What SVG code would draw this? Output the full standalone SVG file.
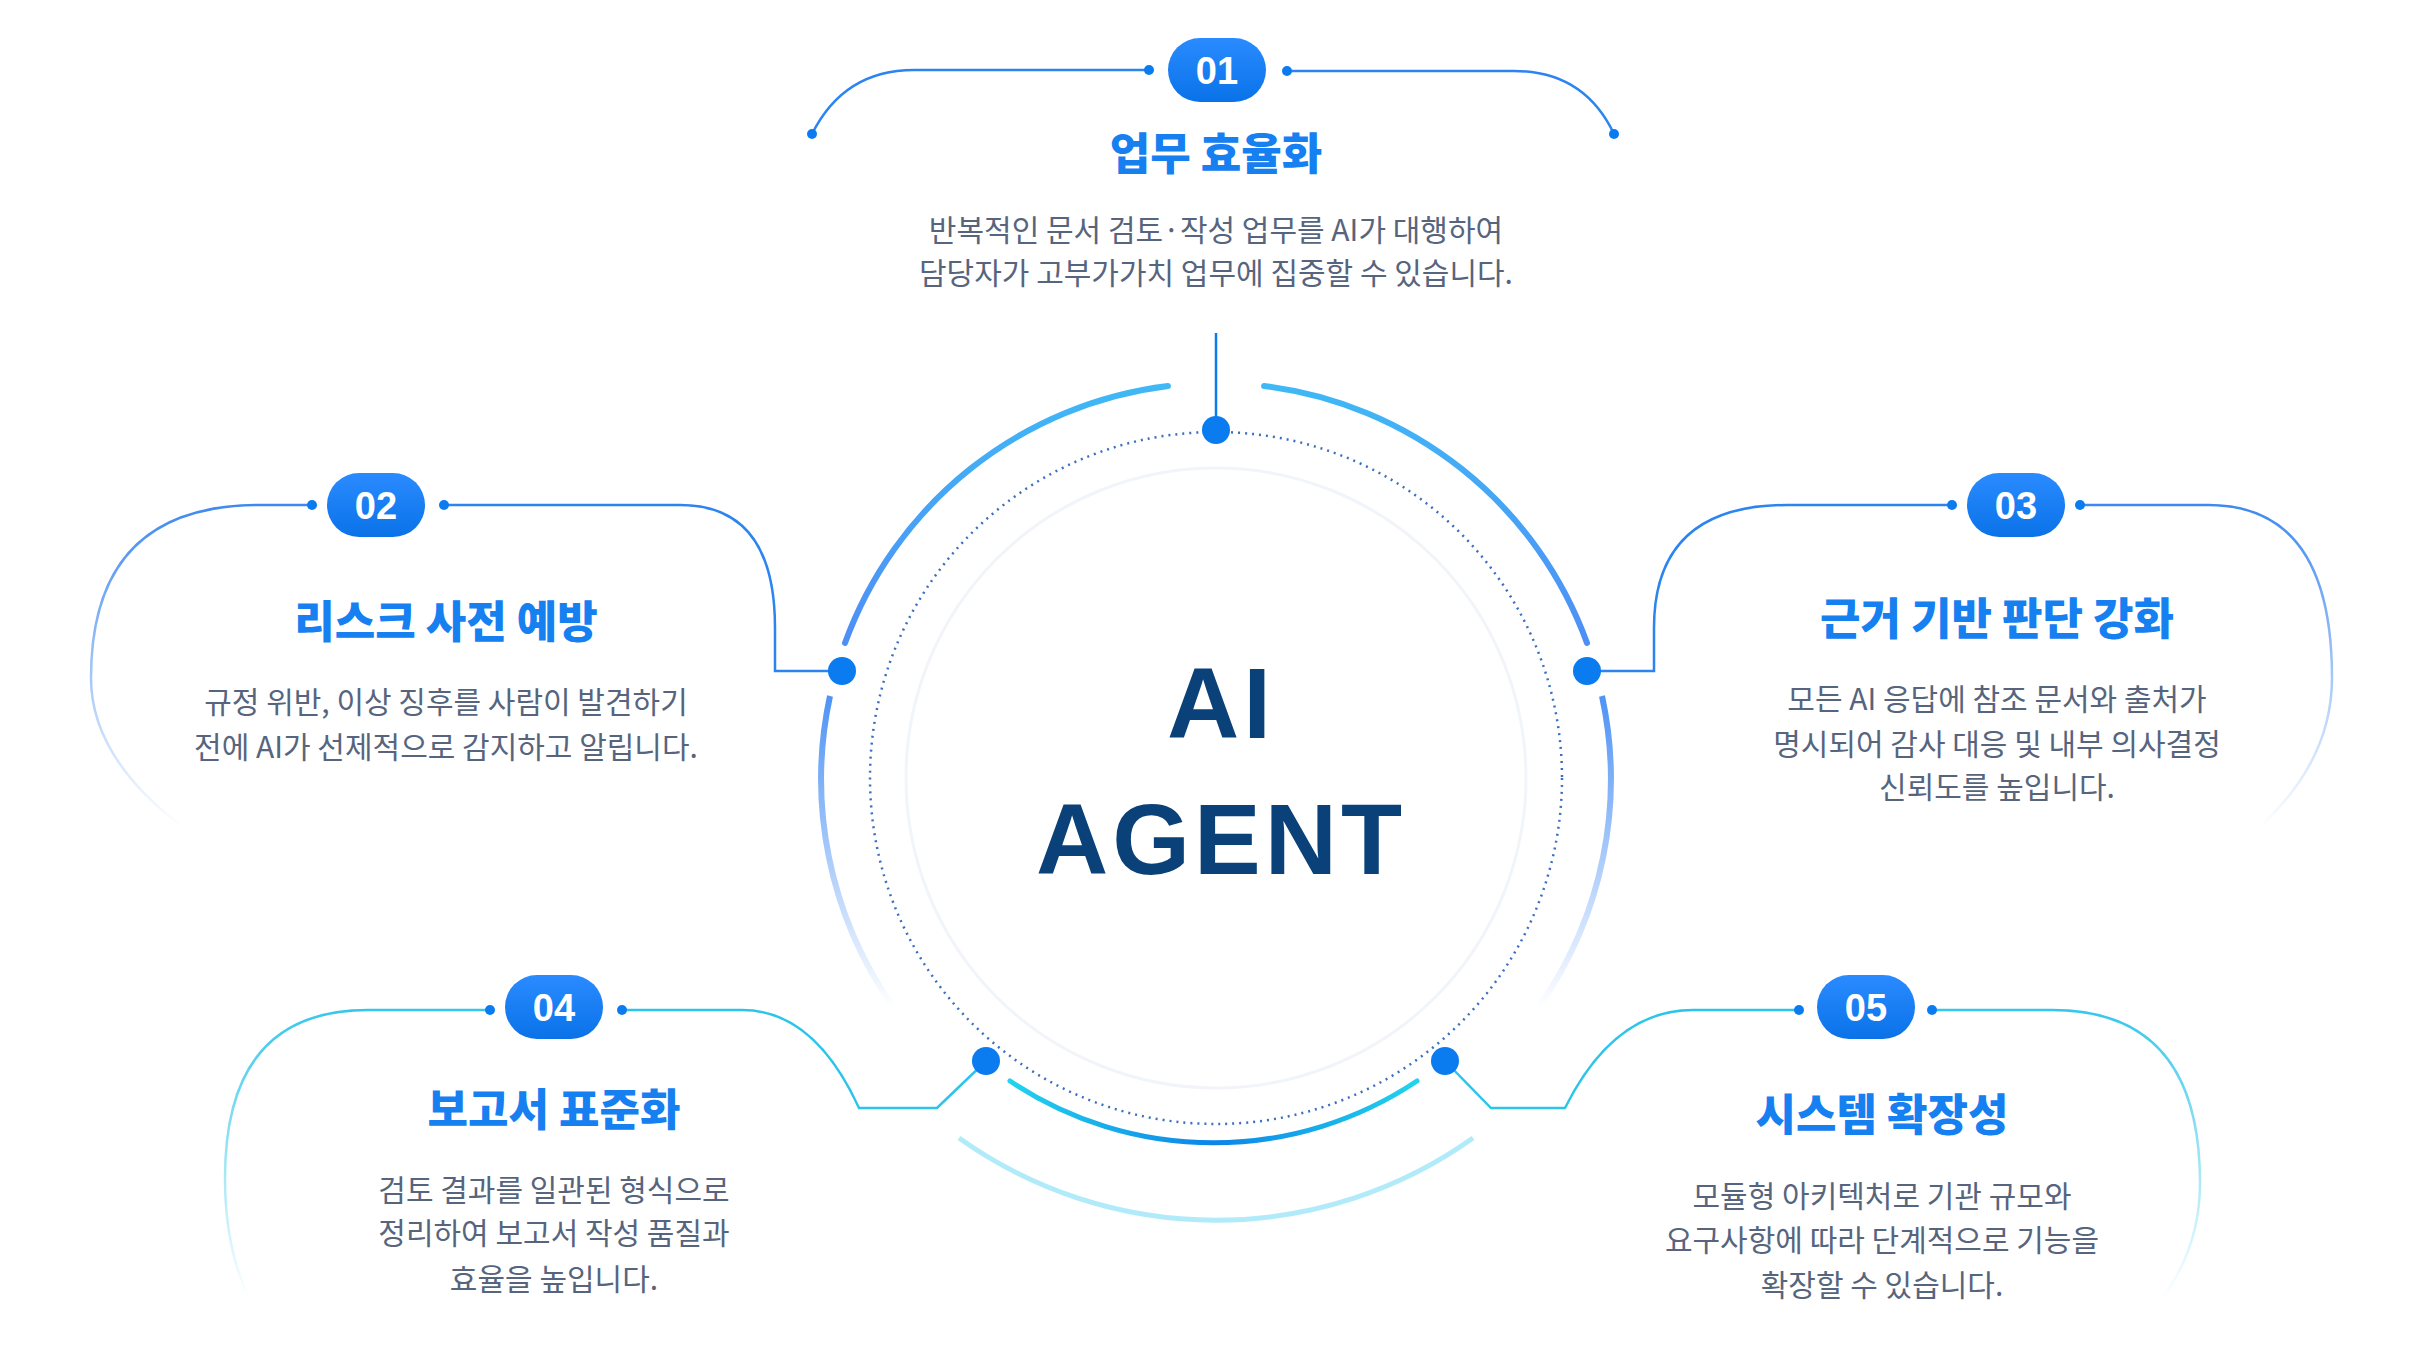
<svg xmlns="http://www.w3.org/2000/svg" width="2432" height="1369" viewBox="0 0 2432 1369">
<defs>
<style>
.t{font-family:"Noto Sans CJK KR","Liberation Sans",sans-serif;font-weight:900;fill:#1680f0;font-size:44px;text-anchor:middle}
.d{font-family:"Noto Sans CJK KR","Liberation Sans",sans-serif;fill:#56657d;font-size:30px;text-anchor:middle}
.b{font-family:"Liberation Sans",sans-serif;font-weight:700;fill:#fff;font-size:38px;text-anchor:middle}
.ln{fill:none;stroke-width:2.5}
.dot{fill:#0a7cf0}
</style>
<linearGradient id="badge" x1="0" y1="0" x2="0" y2="1"><stop offset="0" stop-color="#2a8bff"/><stop offset="1" stop-color="#0a72e8"/></linearGradient>
<linearGradient id="fadeL" gradientUnits="userSpaceOnUse" x1="0" y1="500" x2="0" y2="830"><stop offset="0" stop-color="#3a86f0"/><stop offset="1" stop-color="#3a86f0" stop-opacity="0"/></linearGradient>
<linearGradient id="fadeB" gradientUnits="userSpaceOnUse" x1="0" y1="1000" x2="0" y2="1300"><stop offset="0" stop-color="#2cc5ea"/><stop offset="1" stop-color="#2cc5ea" stop-opacity="0"/></linearGradient>
<linearGradient id="ringDown" gradientUnits="userSpaceOnUse" x1="0" y1="690" x2="0" y2="1010"><stop offset="0" stop-color="#4a90f5"/><stop offset="1" stop-color="#4a90f5" stop-opacity="0"/></linearGradient>
<linearGradient id="ringUp" gradientUnits="userSpaceOnUse" x1="0" y1="390" x2="0" y2="650"><stop offset="0" stop-color="#3fb8f5"/><stop offset="1" stop-color="#4f8ef5"/></linearGradient>
<linearGradient id="cyan" gradientUnits="userSpaceOnUse" x1="1016" y1="0" x2="1423" y2="0"><stop offset="0" stop-color="#22d3ee"/><stop offset="0.5" stop-color="#0b84e8"/><stop offset="1" stop-color="#22d3ee"/></linearGradient>
</defs>
<rect width="2432" height="1369" fill="#fff"/>
<g transform="translate(-6,-2)">
<g id="hub">
<circle cx="1222" cy="780" r="310" fill="none" stroke="#f1f5f9" stroke-width="3"/>
<circle cx="1222" cy="780" r="346" fill="none" stroke="#3b6fc0" stroke-width="2.5" stroke-dasharray="2 5"/>
<path d="M1174 388 A395 395 0 0 0 851 645" fill="none" stroke="url(#ringUp)" stroke-width="6" stroke-linecap="round"/>
<path d="M1270 388 A395 395 0 0 1 1593 645" fill="none" stroke="url(#ringUp)" stroke-width="6" stroke-linecap="round"/>
<path d="M836 698 A395 395 0 0 0 898 1007" fill="none" stroke="url(#ringDown)" stroke-width="6"/>
<path d="M1608 698 A395 395 0 0 1 1546 1007" fill="none" stroke="url(#ringDown)" stroke-width="6"/>
<path d="M1016 1083 A366 366 0 0 0 1423 1083" fill="none" stroke="url(#cyan)" stroke-width="5" stroke-linecap="round"/>
<path d="M965 1140 A443 443 0 0 0 1479 1140" fill="none" stroke="#9ee6f7" stroke-width="5" opacity="0.8"/>
<text x="1227" y="740" font-family="'Liberation Sans',sans-serif" font-weight="700" font-size="100" fill="#0b4179" text-anchor="middle" letter-spacing="4">AI</text>
<text x="1227" y="876" font-family="'Liberation Sans',sans-serif" font-weight="700" font-size="100" fill="#0b4179" text-anchor="middle" letter-spacing="4">AGENT</text>
</g>

<g id="connectors">
<line x1="1222" y1="335" x2="1222" y2="425" stroke="#0a7cf0" stroke-width="2.5"/>
<path class="ln" stroke="#2b84f0" d="M1155 72 H920 Q850 72 818 136"/>
<path class="ln" stroke="#2b84f0" d="M1293 73 H1520 Q1590 73 1620 136"/>
<path class="ln" stroke="url(#fadeL)" d="M318 507 H265 Q97 507 97 680 Q97 760 190 830"/>
<path class="ln" stroke="#2b84f0" d="M450 507 H686 Q781 507 781 630 V673 H848"/>
<path class="ln" stroke="#2b84f0" d="M1958 507 H1793 Q1660 507 1660 630 V673 H1593"/>
<path class="ln" stroke="url(#fadeL)" d="M2086 507 H2214 Q2338 507 2338 680 Q2338 760 2270 825"/>
<path class="ln" stroke="url(#fadeB)" d="M496 1012 H374 Q231 1012 231 1180 Q231 1250 255 1300"/>
<path class="ln" stroke="#2cc5ea" d="M628 1012 H748 Q820 1012 865 1110 H943 L992 1063"/>
<path class="ln" stroke="#2cc5ea" d="M1805 1012 H1699 Q1620 1012 1571 1110 H1497 L1451 1063"/>
<path class="ln" stroke="url(#fadeB)" d="M1938 1012 H2058 Q2206 1012 2206 1185 Q2206 1250 2167 1302"/>
<g class="dot">
<circle cx="1155" cy="72" r="5"/><circle cx="1293" cy="73" r="5"/><circle cx="818" cy="136" r="5"/><circle cx="1620" cy="136" r="5"/>
<circle cx="318" cy="507" r="5"/><circle cx="450" cy="507" r="5"/><circle cx="1958" cy="507" r="5"/><circle cx="2086" cy="507" r="5"/>
<circle cx="496" cy="1012" r="5"/><circle cx="628" cy="1012" r="5"/><circle cx="1805" cy="1012" r="5"/><circle cx="1938" cy="1012" r="5"/>
<circle cx="1222" cy="432" r="14"/><circle cx="848" cy="673" r="14"/><circle cx="1593" cy="673" r="14"/><circle cx="992" cy="1063" r="14"/><circle cx="1451" cy="1063" r="14"/>
</g>
</g>

<g id="n1">
<rect x="1174" y="40" width="98" height="64" rx="32" fill="url(#badge)"/>
<text class="b" x="1223" y="86">01</text>
<text class="t" x="1222" y="172">업무 효율화</text>
<text class="d" x="1222" y="243">반복적인 문서 검토·작성 업무를 AI가 대행하여</text>
<text class="d" x="1222" y="286">담당자가 고부가가치 업무에 집중할 수 있습니다.</text>
</g>
<g id="n2">
<rect x="333" y="475" width="98" height="64" rx="32" fill="url(#badge)"/>
<text class="b" x="382" y="521">02</text>
<text class="t" x="452" y="640">리스크 사전 예방</text>
<text class="d" x="452" y="715">규정 위반, 이상 징후를 사람이 발견하기</text>
<text class="d" x="452" y="760">전에 AI가 선제적으로 감지하고 알립니다.</text>
</g>
<g id="n3">
<rect x="1973" y="475" width="98" height="64" rx="32" fill="url(#badge)"/>
<text class="b" x="2022" y="521">03</text>
<text class="t" x="2003" y="637">근거 기반 판단 강화</text>
<text class="d" x="2003" y="712">모든 AI 응답에 참조 문서와 출처가</text>
<text class="d" x="2003" y="757">명시되어 감사 대응 및 내부 의사결정</text>
<text class="d" x="2003" y="800">신뢰도를 높입니다.</text>
</g>
<g id="n4">
<rect x="511" y="977" width="98" height="64" rx="32" fill="url(#badge)"/>
<text class="b" x="560" y="1023">04</text>
<text class="t" x="560" y="1128">보고서 표준화</text>
<text class="d" x="560" y="1203">검토 결과를 일관된 형식으로</text>
<text class="d" x="560" y="1246">정리하여 보고서 작성 품질과</text>
<text class="d" x="560" y="1292">효율을 높입니다.</text>
</g>
<g id="n5">
<rect x="1823" y="977" width="98" height="64" rx="32" fill="url(#badge)"/>
<text class="b" x="1872" y="1023">05</text>
<text class="t" x="1888" y="1133">시스템 확장성</text>
<text class="d" x="1888" y="1209">모듈형 아키텍처로 기관 규모와</text>
<text class="d" x="1888" y="1253">요구사항에 따라 단계적으로 기능을</text>
<text class="d" x="1888" y="1298">확장할 수 있습니다.</text>
</g>
</g>
</svg>
